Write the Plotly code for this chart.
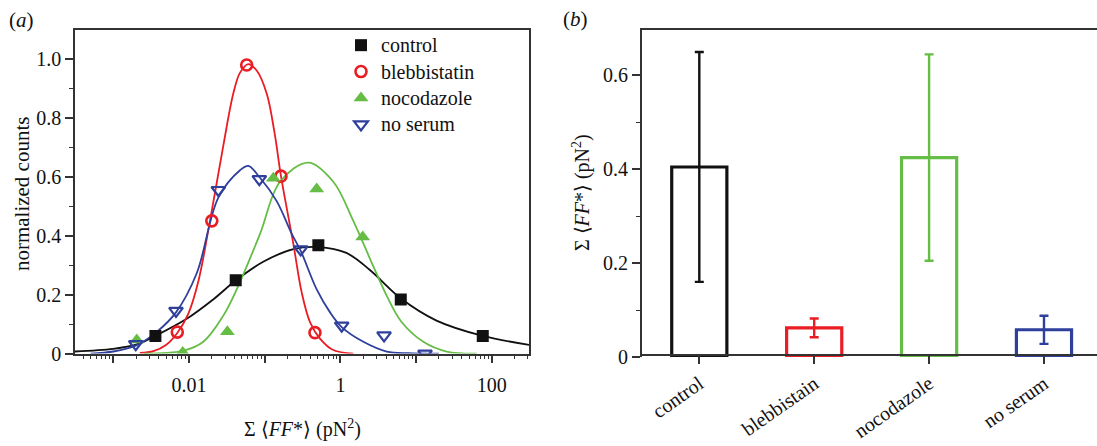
import plotly.graph_objects as go

# ---------------- data: panel (a) ----------------
legend_names = ["control", "blebbistatin", "nocodazole", "no serum"]

control_x = [0.0036, 0.0414, 0.511, 6.27, 75.9]
control_y = [0.06, 0.249, 0.368, 0.184, 0.06]

blebb_x = [0.0070, 0.0200, 0.0578, 0.164, 0.461]
blebb_y = [0.073, 0.451, 0.981, 0.603, 0.071]

nocod_x = [0.00204, 0.00826, 0.0321, 0.130, 0.486, 1.97]
nocod_y = [0.046, 0.004, 0.074, 0.596, 0.559, 0.396]

noserum_x = [0.00198, 0.00673, 0.0244, 0.0849, 0.299, 1.04, 3.77, 13.1]
noserum_y = [0.032, 0.145, 0.556, 0.593, 0.354, 0.095, 0.062, 0.0]

# fitted curves
control_fit_x = [0.00025, 0.001, 0.00204, 0.00359, 0.00933, 0.0209, 0.0417, 0.0955,
                 0.240, 0.513, 1.20, 2.45, 6.31, 18.6, 75.9, 398]
control_fit_y = [0.006, 0.016, 0.031, 0.06, 0.118, 0.184, 0.249, 0.312,
                 0.355, 0.362, 0.342, 0.284, 0.187, 0.112, 0.06, 0.025]

blebb_fit_x = [0.00224, 0.00339, 0.00501, 0.0070, 0.00977, 0.01327, 0.01892, 0.02838,
               0.03846, 0.04721, 0.06067, 0.07834, 0.1062, 0.1349, 0.164, 0.2388,
               0.3083, 0.3963, 0.537, 0.805, 1.479]
blebb_fit_y = [0.002, 0.008, 0.03, 0.07, 0.135, 0.245, 0.451, 0.707,
               0.884, 0.955, 0.984, 0.962, 0.884, 0.75, 0.603, 0.373,
               0.207, 0.107, 0.051, 0.012, 0.0]

nocod_fit_x = [0.00251, 0.00826, 0.01545, 0.02838, 0.04266, 0.0867, 0.1592, 0.3767,
               0.805, 1.479, 2.723, 4.093, 6.31, 12.45, 25.35, 63.1]
nocod_fit_y = [0.0, 0.009, 0.04, 0.129, 0.218, 0.407, 0.584, 0.649,
               0.584, 0.451, 0.296, 0.196, 0.11, 0.04, 0.007, 0.0]

noserum_fit_x = [0.000501, 0.001, 0.00198, 0.00372, 0.00673, 0.01265, 0.0244, 0.0472,
                 0.0607, 0.0851, 0.1439, 0.2275, 0.299, 0.486, 0.7295, 1.04,
                 2.01, 4.09, 7.94, 19.95]
noserum_fit_y = [0.0, 0.007, 0.027, 0.073, 0.14, 0.273, 0.53, 0.623,
                 0.638, 0.60, 0.518, 0.407, 0.349, 0.218, 0.14, 0.09,
                 0.04, 0.007, 0.001, 0.0]

# ---------------- data: panel (b) ----------------
bar_categories = ["control", "blebbistain", "nocodazole", "no serum"]
bar_values = [0.405, 0.062, 0.425, 0.058]
bar_errors = [0.245, 0.02, 0.22, 0.03]

# ---------------- styling ----------------
colors = ["#111111", "#ea1c24", "#66bd45", "#2f3f9c"]
FONT = "Liberation Serif"
AX = "#333333"
TXT = "#111111"

fig = go.Figure()

# curves
for fx, fy, c in [(control_fit_x, control_fit_y, colors[0]),
                  (blebb_fit_x, blebb_fit_y, colors[1]),
                  (nocod_fit_x, nocod_fit_y, colors[2]),
                  (noserum_fit_x, noserum_fit_y, colors[3])]:
    fig.add_trace(go.Scatter(x=fx, y=fy, mode="lines",
                             line=dict(color=c, width=1.8, shape="spline", smoothing=1.0),
                             showlegend=False, hoverinfo="skip", xaxis="x", yaxis="y"))

# markers
markers = [
    (control_x, control_y, dict(symbol="square", size=12, color=colors[0])),
    (blebb_x, blebb_y, dict(symbol="circle-open", size=11, color=colors[1],
                            line=dict(width=2.6, color=colors[1]))),
    (nocod_x, nocod_y, dict(symbol="triangle-up", size=13, color=colors[2])),
    (noserum_x, noserum_y, dict(symbol="triangle-down-open", size=12, color=colors[3],
                                line=dict(width=2.2, color=colors[3]))),
]
for (mx, my, mk), name in zip(markers, legend_names):
    fig.add_trace(go.Scatter(x=mx, y=my, mode="markers", marker=mk,
                             name='<span style="font-size:20px">' + name + '</span>',
                             xaxis="x", yaxis="y"))

# bars
for cat, v, e, c in zip(bar_categories, bar_values, bar_errors, colors):
    fig.add_trace(go.Bar(x=[cat], y=[v], width=0.48, xaxis="x2", yaxis="y2", showlegend=False,
                         marker=dict(color="rgba(0,0,0,0)", line=dict(color=c, width=3.2)),
                         error_y=dict(type="data", array=[e], visible=True, color=c,
                                      thickness=2.4, width=4.5)))

minor_x = []
for k in range(-4, 3):
    for m in range(2, 10):
        minor_x.append(m * 10.0 ** k)

title_txt = "Σ ⟨<i>FF</i>*⟩ (pN<sup>2</sup>)"
tickfont = dict(family=FONT, size=20, color=TXT)

fig.update_layout(
    width=1097, height=446,
    margin=dict(l=0, r=0, t=0, b=0),
    paper_bgcolor="white", plot_bgcolor="white",
    font=dict(family=FONT, size=20, color=TXT),
    barmode="overlay",
    showlegend=True,
    legend=dict(x=341 / 1097, y=0.938, xanchor="left", yanchor="top",
                font=dict(family=FONT, size=18, color=TXT),
                bgcolor="rgba(0,0,0,0)", borderwidth=0, itemwidth=30, tracegroupgap=0),
    xaxis=dict(domain=[75 / 1097, 529 / 1097], type="log", range=[-3.506, 2.491],
               showline=True, linecolor=AX, linewidth=1.5, mirror=True,
               showgrid=False, zeroline=False,
               tickmode="array", tickvals=[0.001, 0.01, 0.1, 1, 10, 100],
               ticktext=[" ", "0.01", " ", "1", " ", "100"],
               ticks="outside", ticklen=8, tickwidth=1.5, tickcolor=AX,
               ticklabelstandoff=5,
               tickfont=tickfont,
               minor=dict(tickmode="array", tickvals=minor_x, ticks="outside", ticklen=4,
                          tickwidth=1.2, tickcolor=AX, showgrid=False)),
    yaxis=dict(domain=[(446 - 362.5) / 446, (446 - 30.7) / 446], range=[0, 1.1],
               showline=True, linecolor=AX, linewidth=1.5, mirror=True,
               showgrid=False, zeroline=False,
               tickmode="array", tickvals=[0, 0.2, 0.4, 0.6, 0.8, 1.0],
               ticktext=["0", "0.2", "0.4", "0.6", "0.8", "1.0"],
               ticks="outside", ticklen=8, tickwidth=1.5, tickcolor=AX,
               tickfont=tickfont,
               minor=dict(tickmode="array", tickvals=[0.1, 0.3, 0.5, 0.7, 0.9], ticks="outside",
                          ticklen=4, tickwidth=1.2, tickcolor=AX, showgrid=False)),
    xaxis2=dict(domain=[641.7 / 1097, 1.0], type="category", range=[-0.5013, 3.4614],
                showline=True, linecolor=AX, linewidth=1.5, mirror=True,
                showgrid=False, zeroline=False,
                ticks="outside", ticklen=9, tickwidth=1.5, tickcolor=AX, tickangle=-35,
                tickfont=tickfont),
    yaxis2=dict(domain=[(446 - 366) / 446, (446 - 29.3) / 446], range=[0, 0.7],
                anchor="x2", showline=True, linecolor=AX, linewidth=1.5, mirror=False,
                showgrid=False, zeroline=False,
                tickmode="array", tickvals=[0, 0.2, 0.4, 0.6], ticktext=["0", "0.2", "0.4", "0.6"],
                ticks="outside", ticklen=8, tickwidth=1.5, tickcolor=AX,
                tickfont=tickfont,
                minor=dict(tickmode="array", tickvals=[0.1, 0.3, 0.5], ticks="outside",
                           ticklen=4, tickwidth=1.2, tickcolor=AX, showgrid=False)),
    annotations=[
        dict(text="(<i>a</i>)", x=21 / 1097, y=1 - 20 / 446, xref="paper", yref="paper",
             showarrow=False, xanchor="center", yanchor="middle",
             font=dict(family=FONT, size=21, color=TXT)),
        dict(text="(<i>b</i>)", x=575 / 1097, y=1 - 19 / 446, xref="paper", yref="paper",
             showarrow=False, xanchor="center", yanchor="middle",
             font=dict(family=FONT, size=21, color=TXT)),
        dict(text="normalized counts", x=22 / 1097, y=1 - 199 / 446, xref="paper", yref="paper",
             textangle=-90, showarrow=False, xanchor="center", yanchor="middle",
             font=dict(family=FONT, size=21, color=TXT)),
        dict(text=title_txt, x=302 / 1097, y=1 - 439 / 446, xref="paper", yref="paper",
             showarrow=False, xanchor="center", yanchor="middle",
             font=dict(family=FONT, size=20, color=TXT)),
        dict(text=title_txt, x=581 / 1097, y=1 - 198 / 446, xref="paper", yref="paper",
             textangle=-90, showarrow=False, xanchor="center", yanchor="middle",
             font=dict(family=FONT, size=20, color=TXT)),
    ],
)

fig.write_html("out.html")
